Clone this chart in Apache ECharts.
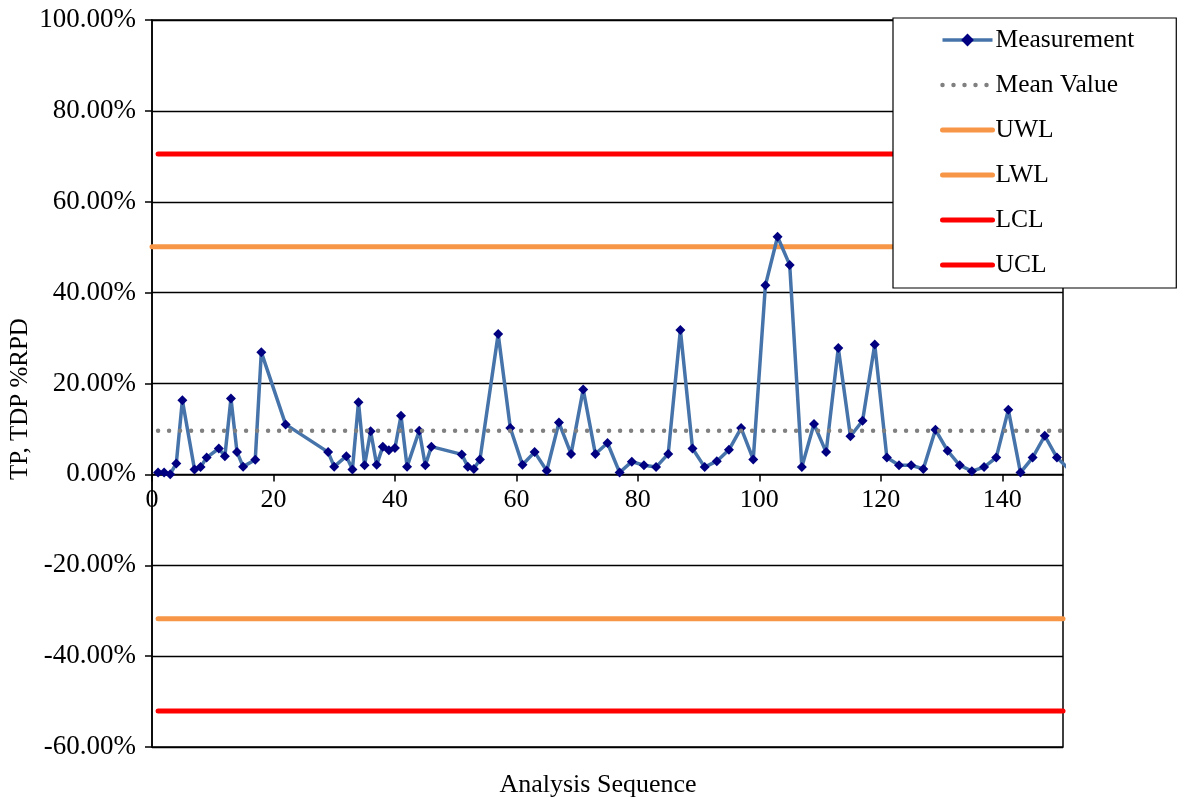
<!DOCTYPE html>
<html>
<head>
<meta charset="utf-8">
<title>TP, TDP %RPD control chart</title>
<script src="https://cdn.jsdelivr.net/npm/echarts@6/dist/echarts.min.js"></script>
<style>
  html, body { margin: 0; padding: 0; background: #ffffff; }
  #chart { width: 1178px; height: 802px; }
</style>
</head>
<body>
<div id="chart"></div>
<script>
// Analysis sequence numbers and the measured relative percent differences (%)
const sequence = [1, 2, 3, 4, 5, 7, 8, 9, 11, 12, 13, 14, 15, 17, 18, 22, 29, 30, 32, 33,
  34, 35, 36, 37, 38, 39, 40, 41, 42, 44, 45, 46, 51, 52, 53, 54, 57, 59, 61, 63,
  65, 67, 69, 71, 73, 75, 77, 79, 81, 83, 85, 87, 89, 91, 93, 95, 97, 99, 101, 103,
  105, 107, 109, 111, 113, 115, 117, 119, 121, 123, 125, 127, 129, 131, 133, 135, 137, 139, 141, 143,
  145, 147, 149, 151];
const measurement = [0.4, 0.4, 0.05, 2.4, 16.3, 1.1, 1.6, 3.7, 5.7, 4.0, 16.7, 4.9, 1.7, 3.2, 26.9, 11.0, 4.9, 1.7, 4.0, 1.1,
  15.9, 2.0, 9.5, 2.1, 6.1, 5.3, 5.8, 12.9, 1.7, 9.6, 2.0, 6.1, 4.4, 1.7, 1.2, 3.3, 30.9, 10.2, 2.1, 4.9,
  0.8, 11.4, 4.5, 18.7, 4.5, 6.9, 0.4, 2.8, 2.0, 1.6, 4.5, 31.8, 5.7, 1.6, 2.9, 5.4, 10.2, 3.3, 41.6, 52.3,
  46.1, 1.6, 11.1, 4.9, 27.8, 8.4, 11.8, 28.6, 3.7, 2.0, 2.0, 1.2, 9.8, 5.2, 2.0, 0.7, 1.6, 3.7, 14.2, 0.4,
  3.7, 8.5, 3.7, 1.1];

// Control statistics (%)
const meanValue = 9.6;
const uwl = 50.1;
const lwl = -31.8;
const ucl = 70.5;
const lcl = -52.1;

// Axis ranges and tick steps
const xRange = [0, 150];
const xStep = 20;
const yRange = [-60, 100];
const yStep = 20;

const font = "'Liberation Serif', 'Times New Roman', serif";

// Plot box (px) – used to lift the sequence axis onto the 0% line
const plotTop = 20;
const plotBottom = 55;
const chartHeight = 802;
const plotHeight = chartHeight - plotTop - plotBottom;
const zeroLift = plotHeight * (0 - yRange[0]) / (yRange[1] - yRange[0]);

const measuredPoints = sequence.map((s, i) => [s, measurement[i]]);
const flat = (v, from, to) => [[from, v], [to, v]];

const chart = echarts.init(document.getElementById('chart'));

const hiddenMark = { opacity: 0 };

chart.setOption({
  animation: false,
  backgroundColor: '#ffffff',
  textStyle: { fontFamily: font, color: '#000' },
  grid: {
    left: 152, right: 115, top: plotTop, bottom: plotBottom,
    show: true, borderColor: '#000', borderWidth: 1.5, backgroundColor: 'transparent'
  },
  legend: {
    orient: 'vertical',
    left: 893, top: 18,
    backgroundColor: '#ffffff',
    borderColor: '#000', borderWidth: 1.2,
    padding: [9, 42, 10, 47],
    itemWidth: 50, itemHeight: 16, itemGap: 19,
    textStyle: { fontFamily: font, fontSize: 25.5, lineHeight: 24, color: '#000', padding: [0, 0, 0, -2] },
    data: [
      { name: 'Measurement', lineStyle: { width: 3.5 } },
      { name: 'Mean Value', itemStyle: hiddenMark, lineStyle: { width: 4.5 } },
      { name: 'UWL', itemStyle: hiddenMark, lineStyle: { width: 5 } },
      { name: 'LWL', itemStyle: hiddenMark, lineStyle: { width: 5 } },
      { name: 'LCL', itemStyle: hiddenMark, lineStyle: { width: 5 } },
      { name: 'UCL', itemStyle: hiddenMark, lineStyle: { width: 5 } }
    ]
  },
  xAxis: {
    type: 'value',
    min: xRange[0], max: xRange[1], interval: xStep,
    offset: -zeroLift,
    axisLine: { onZero: false, lineStyle: { color: '#000', width: 1.5 } },
    axisTick: { show: true, length: 7, lineStyle: { color: '#000', width: 1.5 } },
    axisLabel: { fontFamily: font, fontSize: 26, color: '#000', margin: 13, showMaxLabel: false },
    splitLine: { show: false }
  },
  yAxis: {
    type: 'value',
    min: yRange[0], max: yRange[1], interval: yStep,
    axisLine: { show: true, onZero: false, lineStyle: { color: '#000', width: 1.5 } },
    axisTick: { show: true, length: 7, lineStyle: { color: '#000', width: 1.5 } },
    axisLabel: {
      fontFamily: font, fontSize: 27, color: '#000', margin: 16,
      formatter: v => v.toFixed(2) + '%'
    },
    splitLine: { show: true, lineStyle: { color: '#000', width: 1.3 } }
  },
  graphic: [
    {
      type: 'text', x: 598, y: 785,
      style: { text: 'Analysis Sequence', font: '26px ' + font, fill: '#000', align: 'center', verticalAlign: 'middle' }
    },
    {
      type: 'text', x: 20, y: 399, rotation: Math.PI / 2,
      style: { text: 'TP, TDP %RPD', font: '25px ' + font, fill: '#000', align: 'center', verticalAlign: 'middle' }
    }
  ],
  series: [
    {
      name: 'UWL', type: 'line', data: flat(uwl, 0, xRange[1]), symbol: 'none', z: 2,
      lineStyle: { color: '#F79646', width: 5, cap: 'round' }, itemStyle: { color: '#F79646' }
    },
    {
      name: 'LWL', type: 'line', data: flat(lwl, 1, xRange[1]), symbol: 'none', z: 2,
      lineStyle: { color: '#F79646', width: 5, cap: 'round' }, itemStyle: { color: '#F79646' }
    },
    {
      name: 'LCL', type: 'line', data: flat(lcl, 1, xRange[1]), symbol: 'none', z: 2,
      lineStyle: { color: '#FF0000', width: 5, cap: 'round' }, itemStyle: { color: '#FF0000' }
    },
    {
      name: 'UCL', type: 'line', data: flat(ucl, 1, xRange[1]), symbol: 'none', z: 2,
      lineStyle: { color: '#FF0000', width: 5, cap: 'round' }, itemStyle: { color: '#FF0000' }
    },
    {
      name: 'Measurement', type: 'line', data: measuredPoints, z: 3,
      symbol: 'diamond', symbolSize: 10, showSymbol: true,
      lineStyle: { color: '#4674AA', width: 3.5 },
      itemStyle: { color: '#000080', borderWidth: 0 }
    },
    {
      name: 'Mean Value', type: 'line', data: flat(meanValue, 1, xRange[1]), symbol: 'none', z: 4,
      lineStyle: { color: '#808080', width: 4.5, type: [0, 11], cap: 'round' },
      itemStyle: { color: '#808080' }
    }
  ]
});
</script>
</body>
</html>
